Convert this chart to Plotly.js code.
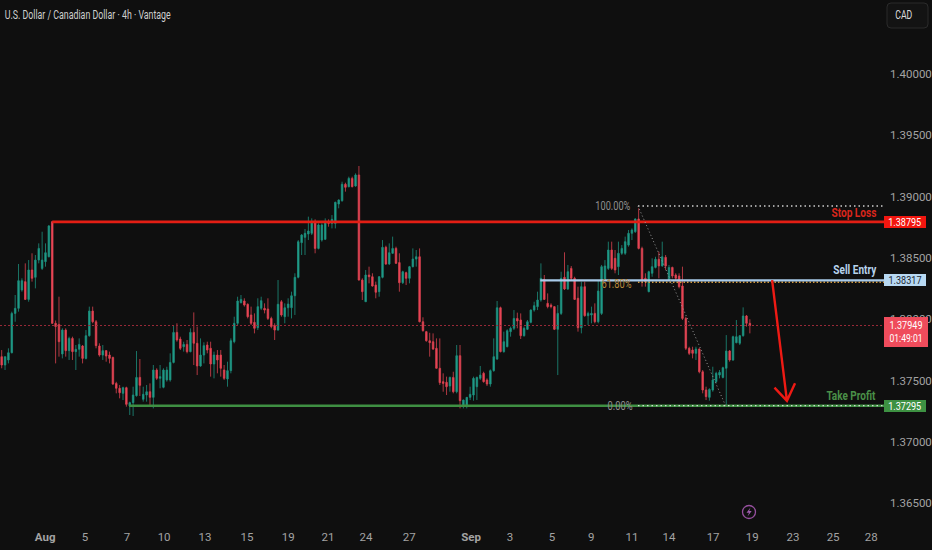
<!DOCTYPE html>
<html><head><meta charset="utf-8">
<script src="https://cdn.plot.ly/plotly-3.0.1.min.js"></script>
<style>html,body{margin:0;padding:0;background:#0f0f0f}#c{width:932px;height:550px}</style>
</head><body><div id="c"></div>
<script>
const open_ = [
1.37695,1.37627,1.37668,1.37727,1.38048,1.38089,1.38239,1.38307,1.38162,1.38402,
1.38342,1.38483,1.38415,1.38470,1.38510,1.38796,1.37967,1.37958,1.37717,1.37912,
1.37744,1.37844,1.37736,1.37755,1.37782,1.37681,1.37866,1.38067,1.37980,1.37782,
1.37708,1.37744,1.37708,1.37689,1.37477,1.37437,1.37396,1.37442,1.37292,1.37320,
1.37377,1.37526,1.37347,1.37382,1.37409,1.37363,1.37586,1.37518,1.37445,1.37505,
1.37505,1.37648,1.37893,1.37839,1.37776,1.37795,1.37736,1.37893,1.37804,1.37619,
1.37708,1.37790,1.37763,1.37635,1.37708,1.37708,1.37586,1.37513,1.37581,1.37817,
1.37967,1.38135,1.38149,1.38122,1.38035,1.37975,1.37931,1.38089,1.38089,1.38084,
1.38007,1.37948,1.37912,1.38143,1.38021,1.38094,1.38094,1.38192,1.38342,1.38625,
1.38668,1.38695,1.38701,1.38796,1.38578,1.38646,1.38652,1.38796,1.38782,1.38782,
1.38940,1.38967,1.39101,1.39081,1.39149,1.39087,1.39177,1.38320,1.38143,1.38361,
1.38347,1.38279,1.38225,1.38342,1.38587,1.38451,1.38538,1.38578,1.38462,1.38298,
1.38380,1.38334,1.38429,1.38491,1.38510,1.37980,1.37899,1.37825,1.37817,1.37763,
1.37600,1.37491,1.37486,1.37456,1.37526,1.37409,1.37703,1.37301,1.37301,1.37363,
1.37382,1.37450,1.37518,1.37559,1.37505,1.37472,1.37581,1.37676,1.38094,1.37736,
1.37776,1.37899,1.37926,1.38007,1.37994,1.37866,1.37918,1.37975,1.38075,1.38103,
1.38157,1.38326,1.38130,1.38116,1.38103,1.37918,1.38048,1.38342,1.38247,1.38415,
1.38334,1.38171,1.37931,1.38266,1.38029,1.38035,1.38048,1.37980,1.38048,1.38326,
1.38415,1.38565,1.38497,1.38429,1.38538,1.38538,1.38605,1.38701,1.38714,1.38818,
1.38578,1.38334,1.38225,1.38375,1.38423,1.38489,1.38435,1.38505,1.38320,1.38423,
1.38361,1.38353,1.38271,1.38007,1.37763,1.37749,1.37722,1.37757,1.37572,1.37423,
1.37363,1.37423,1.37491,1.37545,1.37526,1.37600,1.37741,1.37668,1.37809,1.37804,
1.37866,1.38027,1.37967];
const high = [
1.37749,1.37695,1.37763,1.38062,1.38198,1.38451,1.38334,1.38456,1.38483,1.38538,
1.38524,1.38619,1.38714,1.38619,1.38769,1.38801,1.37990,1.38184,1.37926,1.37926,
1.37858,1.37858,1.37790,1.37844,1.37790,1.37912,1.38103,1.38103,1.37994,1.37804,
1.37790,1.37749,1.37736,1.37695,1.37490,1.37464,1.37450,1.37450,1.37328,1.37450,
1.37741,1.37676,1.37450,1.37464,1.37477,1.37627,1.37600,1.37627,1.37600,1.37613,
1.37722,1.37953,1.37967,1.37858,1.37817,1.37831,1.37926,1.38056,1.37940,1.37844,
1.37812,1.37817,1.37817,1.37736,1.37749,1.37749,1.37627,1.37654,1.37844,1.38021,
1.38184,1.38198,1.38171,1.38130,1.38103,1.38048,1.38171,1.38184,1.38130,1.38171,
1.38021,1.37967,1.38320,1.38157,1.38130,1.38171,1.38225,1.38375,1.38646,1.38695,
1.38736,1.38837,1.38823,1.38815,1.38782,1.38782,1.38823,1.38815,1.38850,1.38959,
1.38978,1.39122,1.39114,1.39163,1.39163,1.39190,1.39250,1.38334,1.38402,1.38429,
1.38375,1.38307,1.38353,1.38646,1.38600,1.38619,1.38674,1.38592,1.38538,1.38396,
1.38388,1.38435,1.38578,1.38565,1.38578,1.38016,1.37905,1.37890,1.37885,1.37844,
1.37844,1.37559,1.37532,1.37532,1.37572,1.37790,1.37790,1.37345,1.37363,1.37450,
1.37532,1.37532,1.37619,1.37572,1.37518,1.37591,1.37844,1.38149,1.38103,1.37899,
1.37918,1.37940,1.38075,1.38054,1.38048,1.37940,1.37994,1.38081,1.38143,1.38225,
1.38456,1.38361,1.38211,1.38130,1.38108,1.38116,1.38388,1.38546,1.38443,1.38434,
1.38347,1.38266,1.38307,1.38307,1.38062,1.38103,1.38130,1.38320,1.38443,1.38483,
1.38633,1.38633,1.38565,1.38633,1.38605,1.38674,1.38728,1.38741,1.38823,1.38905,
1.38592,1.38375,1.38396,1.38497,1.38510,1.38551,1.38633,1.38524,1.38443,1.38429,
1.38375,1.38375,1.38429,1.38021,1.37776,1.37776,1.37776,1.37763,1.37586,1.37450,
1.37437,1.37613,1.37572,1.37586,1.37613,1.37871,1.37749,1.37866,1.37994,1.37871,
1.38097,1.38035,1.38000];
const low = [
1.37600,1.37586,1.37640,1.37722,1.37980,1.38062,1.38225,1.38157,1.38143,1.38307,
1.38252,1.38456,1.38402,1.38429,1.38505,1.37961,1.37640,1.37695,1.37681,1.37695,
1.37668,1.37668,1.37586,1.37695,1.37640,1.37673,1.37858,1.37967,1.37763,1.37695,
1.37668,1.37654,1.37640,1.37464,1.37396,1.37355,1.37341,1.37287,1.37219,1.37211,
1.37369,1.37374,1.37328,1.37328,1.37301,1.37273,1.37505,1.37437,1.37437,1.37491,
1.37491,1.37640,1.37817,1.37749,1.37736,1.37722,1.37730,1.37627,1.37545,1.37613,
1.37640,1.37722,1.37532,1.37518,1.37559,1.37532,1.37505,1.37450,1.37559,1.37804,
1.37953,1.38130,1.38103,1.38007,1.37953,1.37885,1.37912,1.38075,1.38048,1.37994,
1.37926,1.37831,1.37907,1.38021,1.37967,1.38021,1.38007,1.38035,1.38334,1.38524,
1.38524,1.38646,1.38687,1.38538,1.38570,1.38633,1.38646,1.38755,1.38741,1.38741,
1.38905,1.38959,1.39041,1.39076,1.39076,1.39081,1.38315,1.38157,1.38143,1.38293,
1.38266,1.38171,1.38184,1.38334,1.38443,1.38443,1.38532,1.38451,1.38225,1.38288,
1.38279,1.38293,1.38423,1.38429,1.37975,1.37899,1.37817,1.37695,1.37749,1.37598,
1.37464,1.37409,1.37382,1.37409,1.37396,1.37396,1.37273,1.37273,1.37273,1.37341,
1.37336,1.37341,1.37505,1.37483,1.37456,1.37450,1.37572,1.37668,1.37730,1.37727,
1.37771,1.37858,1.37912,1.37926,1.37839,1.37858,1.37912,1.37967,1.38062,1.38075,
1.38143,1.38157,1.38089,1.38089,1.37912,1.37545,1.38035,1.38239,1.38239,1.38320,
1.38157,1.37899,1.37885,1.38021,1.37953,1.37967,1.37967,1.37967,1.38035,1.38320,
1.38402,1.38402,1.38375,1.38361,1.38525,1.38525,1.38592,1.38646,1.38705,1.38570,
1.38266,1.38266,1.38220,1.38347,1.38415,1.38334,1.38429,1.38402,1.38315,1.38334,
1.38320,1.38252,1.37994,1.37749,1.37708,1.37681,1.37668,1.37559,1.37396,1.37341,
1.37336,1.37409,1.37477,1.37518,1.37518,1.37287,1.37654,1.37660,1.37804,1.37790,
1.37858,1.37940,1.37885];
const close_ = [
1.37627,1.37695,1.37727,1.38048,1.38089,1.38315,1.38315,1.38162,1.38402,1.38334,
1.38483,1.38578,1.38483,1.38543,1.38761,1.37967,1.37940,1.37817,1.37912,1.37744,
1.37844,1.37736,1.37755,1.37795,1.37681,1.37866,1.38067,1.37980,1.37785,1.37708,
1.37744,1.37700,1.37681,1.37472,1.37437,1.37401,1.37442,1.37306,1.37320,1.37382,
1.37526,1.37461,1.37388,1.37409,1.37363,1.37586,1.37518,1.37532,1.37586,1.37586,
1.37648,1.37893,1.37831,1.37763,1.37795,1.37736,1.37893,1.37804,1.37619,1.37708,
1.37785,1.37749,1.37635,1.37708,1.37668,1.37600,1.37518,1.37581,1.37825,1.37967,
1.38149,1.38162,1.38116,1.38021,1.37967,1.37926,1.38103,1.38152,1.38075,1.38007,
1.37940,1.37912,1.38122,1.38035,1.38094,1.38124,1.38192,1.38342,1.38633,1.38687,
1.38701,1.38720,1.38796,1.38578,1.38769,1.38769,1.38796,1.38782,1.38815,1.38954,
1.38973,1.39101,1.39076,1.39149,1.39081,1.39177,1.38320,1.38225,1.38361,1.38347,
1.38271,1.38220,1.38347,1.38587,1.38451,1.38543,1.38578,1.38456,1.38298,1.38388,
1.38334,1.38429,1.38491,1.38510,1.37980,1.37907,1.37825,1.37809,1.37757,1.37600,
1.37483,1.37477,1.37450,1.37526,1.37409,1.37703,1.37336,1.37341,1.37363,1.37388,
1.37518,1.37526,1.37545,1.37491,1.37472,1.37581,1.37695,1.38094,1.37736,1.37817,
1.37907,1.37926,1.38007,1.37986,1.37866,1.37926,1.37980,1.38075,1.38111,1.38157,
1.38334,1.38162,1.38103,1.38103,1.37918,1.38048,1.38334,1.38247,1.38388,1.38334,
1.38162,1.37931,1.38266,1.38029,1.38048,1.38048,1.37980,1.38230,1.38429,1.38435,
1.38565,1.38415,1.38402,1.38538,1.38578,1.38633,1.38701,1.38728,1.38818,1.38578,
1.38320,1.38307,1.38388,1.38429,1.38489,1.38435,1.38510,1.38435,1.38423,1.38353,
1.38334,1.38266,1.38007,1.37763,1.37722,1.37722,1.37757,1.37572,1.37423,1.37369,
1.37428,1.37505,1.37559,1.37567,1.37605,1.37741,1.37668,1.37858,1.37858,1.37866,
1.38027,1.37967,1.37949];

const yTickVals = [1.365,1.37,1.375,1.38,1.385,1.39,1.395,1.40];
const yTickText = ["1.36500","1.37000","1.37500","1.38000","1.38500","1.39000","1.39500","1.40000"];
const xTickVals = [12.9,24.7,37.2,48.2,60.3,72.8,85,96.8,108.1,120.9,139.3,150.8,163.3,174.9,187,198,211.1,222.7,234.8,246.7,258];
const xTickText = ["<b>Aug</b>","5","7","10","13","15","19","21","24","27","<b>Sep</b>","3","5","9","11","14","17","19","23","25","28"];

const stopLoss = 1.38795, sellEntry = 1.38317, takeProfit = 1.37295, lastPrice = 1.37949;
const fib100 = 1.38924, fib618 = 1.38302, fib0 = 1.37295;
const xStart = -0.5, xEnd = 261.8;
const stopFrom = 15, sellFrom = 159.8, takeFrom = 37.8, fibFrom = 188.8, fibLowAt = 214.8;
const arrowX = [228.6, 233, 229.3, 233, 235.4];
const arrowY = [1.3832, 1.37335, 1.37442, 1.37335, 1.37478];

const FONT = '"Liberation Sans Narrow", Roboto, sans-serif';
const indexes = open_.map((_, i) => i);
const PW = 884, PH = 525;
const px = v => v / PW, py = v => 1 - v / PH;

function line(x, y, color, width, dash) {
  return {type:'scatter', mode:'lines', x, y, hoverinfo:'skip', showlegend:false,
          line:{color, width, dash: dash || 'solid', shape:'linear'}};
}

const traces = [
  line([xStart, xEnd], [lastPrice, lastPrice], '#9a2a38', 1, '2px,2px'),
  {type:'candlestick', x:indexes, open:open_, high, low, close:close_, showlegend:false, hoverinfo:'skip',
   whiskerwidth:0,
   increasing:{line:{color:'#1d8f7e', width:0.8}, fillcolor:'#22a18d'},
   decreasing:{line:{color:'#d9434f', width:0.8}, fillcolor:'#f0465a'}},
  line([stopFrom, xEnd], [stopLoss, stopLoss], '#e31e14', 2.8),
  line([takeFrom, xEnd], [takeProfit, takeProfit], '#3f8f43', 2.6),
  line([fibFrom, xEnd], [fib618, fib618], '#d69a3c', 1.3, '1.5px,2px'),
  line([sellFrom, xEnd], [sellEntry, sellEntry], '#a9cbea', 2.4),
  line([fibFrom, xEnd], [fib100, fib100], '#cfcfcf', 1.3, '1.5px,3px'),
  line([fibFrom, xEnd], [fib0, fib0], '#d5e0d5', 1.3, '1.5px,3px'),
  line([fibFrom, fibLowAt], [fib100, fib0], '#9a9a9a', 1, '1px,2.5px'),
  line(arrowX, arrowY, '#ee1a14', 2.4)
];

function tag(y, text, bg, fg, h, size) {
  return {xref:'paper', yref:'y', x:1, y, xanchor:'left', yanchor:'middle', text, showarrow:false,
          bgcolor:bg, width:42, height:h || 12, align:'center', borderpad:0, borderwidth:0,
          font:{family:FONT, size:size || 11.5, color:fg}};
}
function note(y, text, color) {
  return {xref:'paper', yref:'paper', x:px(885), y:py(y), xanchor:'right', yanchor:'middle', text:'<b>'+text+'</b>', showarrow:false,
          font:{family:FONT, size:13, color}};
}
function fibLabel(y, text, color) {
  return {xref:'x', yref:'y', x:fibFrom+0.0, y, xanchor:'right', yanchor:'middle', text, showarrow:false,
          font:{family:FONT, size:12, color}};
}
/* target widths in pixels for texts the reference draws narrower than any installed face */
const squeezed = {'Stop Loss':45, 'Sell Entry':43, 'Take Profit':49, '100.00%':35, '61.80%':30, '0.00%':25, 'CAD':17,
                  '1.38795':33, '1.38317':33, '1.37295':33, '1.37949':33, '01:49:01':33};

const layout = {
  width:932, height:550,
  margin:{l:0, r:48, t:0, b:25, pad:0},
  paper_bgcolor:'#0f0f0f', plot_bgcolor:'#0f0f0f',
  boxgap:0.35,
  title:{text:'U.S. Dollar / Canadian Dollar · 4h · Vantage', x:5/932, xref:'paper', xanchor:'left',
         y:1-15/550, yref:'container', yanchor:'middle',
         font:{family:FONT, size:12, color:'#d0d0d0'}},
  xaxis:{range:[xStart, xEnd], rangeslider:{visible:false}, showgrid:false, zeroline:false, showline:false,
         tickmode:'array', tickvals:xTickVals, ticktext:xTickText, ticks:'', tickangle:0, ticklabelstandoff:3,
         tickfont:{family:FONT, size:11.5, color:'#a3a3a3'}},
  yaxis:{range:[1.36322, 1.40604], side:'right', showgrid:false, zeroline:false, showline:false,
         tickmode:'array', tickvals:yTickVals, ticktext:yTickText, ticks:'', ticklabelstandoff:5,
         tickfont:{family:FONT, size:11.5, color:'#a3a3a3'}},
  shapes:[
    {type:'path', xref:'paper', yref:'paper', layer:'above', line:{color:'#2b2b2b', width:1}, fillcolor:'#131313',
     path:`M ${px(891)} ${py(3)} L ${px(924)} ${py(3)} Q ${px(928)} ${py(3)} ${px(928)} ${py(7)} L ${px(928)} ${py(24)} Q ${px(928)} ${py(28)} ${px(924)} ${py(28)} L ${px(891)} ${py(28)} Q ${px(887)} ${py(28)} ${px(887)} ${py(24)} L ${px(887)} ${py(7)} Q ${px(887)} ${py(3)} ${px(891)} ${py(3)} Z`},
    {type:'circle', xref:'paper', yref:'paper', x0:px(742.5), x1:px(755.5), y0:py(518.5), y1:py(505.5),
     line:{color:'#96509f', width:1.3}},
    {type:'path', xref:'paper', yref:'paper', line:{width:0}, fillcolor:'#a05cb0',
     path:`M ${px(750.5)} ${py(507.5)} L ${px(746.5)} ${py(512.8)} L ${px(749)} ${py(512.8)} L ${px(747.5)} ${py(516.5)} L ${px(751.7)} ${py(511)} L ${px(749.2)} ${py(511)} Z`}
  ],
  annotations:[
    tag(stopLoss, '1.38795', '#f2160f', '#ffffff'),
    tag(sellEntry, '1.38317', '#b7d8f2', '#1c2630'),
    tag(takeProfit, '1.37295', '#3d9142', '#ffffff'),
    Object.assign(tag(1.37900, '1.37949<br>01:49:01', '#ef4c5c', '#ffffff', 30, 10.5), {width:44}),
    note(212, 'Stop Loss', '#d9261c'),
    note(269, 'Sell Entry', '#b7d3ec'),
    note(395, 'Take Profit', '#4a8f48'),
    fibLabel(fib100, '100.00%', '#8f8f8f'),
    fibLabel(fib618 - 0.00018, '61.80%', '#b9873a'),
    fibLabel(fib0, '0.00%', '#8f8f8f'),
    {xref:'paper', yref:'paper', x:px(889.5), y:py(15.5), xanchor:'left', yanchor:'middle', text:'CAD', showarrow:false,
     font:{family:FONT, size:12, color:'#dcdcdc'}}
  ]
};
Plotly.newPlot('c', traces, layout, {displayModeBar:false, staticPlot:true}).then(gd => {
  const fit = (el, w) => { el.setAttribute('textLength', w); el.setAttribute('lengthAdjust', 'spacingAndGlyphs'); };
  const t = gd.querySelector('.gtitle');
  if (t) fit(t, 166);
  gd.querySelectorAll('.annotation-text').forEach(el => {
    const lines = el.querySelectorAll('tspan.line');
    if (lines.length) {
      lines.forEach(l => { const w = squeezed[l.textContent]; if (w) fit(l, w); });
      return;
    }
    const w = squeezed[el.textContent];
    if (w) fit(el.querySelector('tspan') || el, w);
  });
});
</script></body></html>
